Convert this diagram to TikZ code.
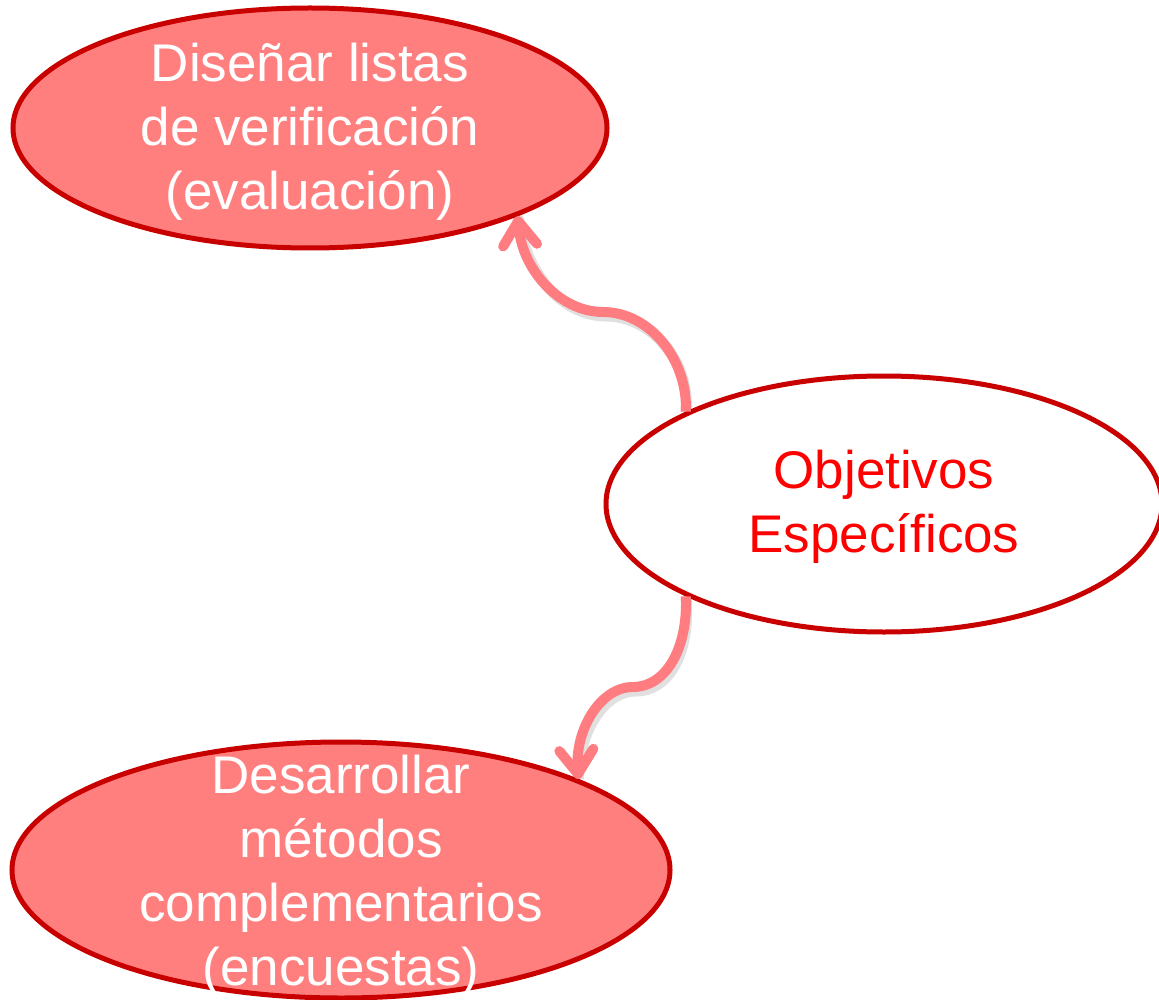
\documentclass[tikz,border=0pt]{standalone}
\usepackage{fontspec}
\setmainfont{Liberation Sans}
\usetikzlibrary{shapes.geometric,arrows.meta}
\definecolor{pinkfill}{HTML}{FF7F7F}
\definecolor{darkred}{HTML}{C80000}
\definecolor{arrowpink}{HTML}{FF7C80}
\definecolor{brightred}{HTML}{FF0000}
\tikzset{
  oval/.style={ellipse, draw=darkred, line width=5pt, inner sep=0pt},
  filled/.style={oval, fill=pinkfill},
  blank/.style={oval, fill=white},
  lbl/.style={align=center, font=\fontsize{53}{64}\selectfont, inner sep=0pt},
  conn/.style={draw=arrowpink, line width=10pt, line cap=butt,
    -{Straight Barb[length=24pt,width=34pt,line cap=round,line join=round]}},
  connshadow/.style={draw=black, opacity=0.12, line width=11pt, line cap=butt}
}
\begin{document}
\begin{tikzpicture}[x=1pt,y=-1pt]
\useasboundingbox (0,0) rectangle (1159,1000);
\node[filled, minimum width=594pt, minimum height=240pt] (dis) at (310,128) {};
\node[lbl, text=white] (distxt) at (310,132) {Diseñar listas\\de verificación\\(evaluación)};
\node[blank, minimum width=556pt, minimum height=256pt] (obj) at (884,504) {};
\node[lbl, text=brightred] (objtxt) at (884,507) {Objetivos\\Específicos};
\node[filled, minimum width=658pt, minimum height=256pt] (des) at (341,870) {};
\node[lbl, text=white] (destxt) at (341,876) {Desarrollar\\métodos\\complementarios\\(encuestas)};
% shadows
\begin{scope}[shift={(3,4)}]
\draw[connshadow] (obj.155) .. controls (688,360) and (650,312) .. (603,312) .. controls (560,312) and (522,270) .. (dis.-23);
\draw[connshadow] (obj.205) .. controls (688,650) and (665,687) .. (633,687) .. controls (600,687) and (575,730) .. (des.21);
\end{scope}
\draw[conn] (obj.155) .. controls (688,360) and (650,312) .. (603,312) .. controls (560,312) and (522,270) .. (dis.-23);
\draw[conn] (obj.205) .. controls (688,650) and (665,687) .. (633,687) .. controls (600,687) and (575,730) .. (des.21);
\end{tikzpicture}
\end{document}
